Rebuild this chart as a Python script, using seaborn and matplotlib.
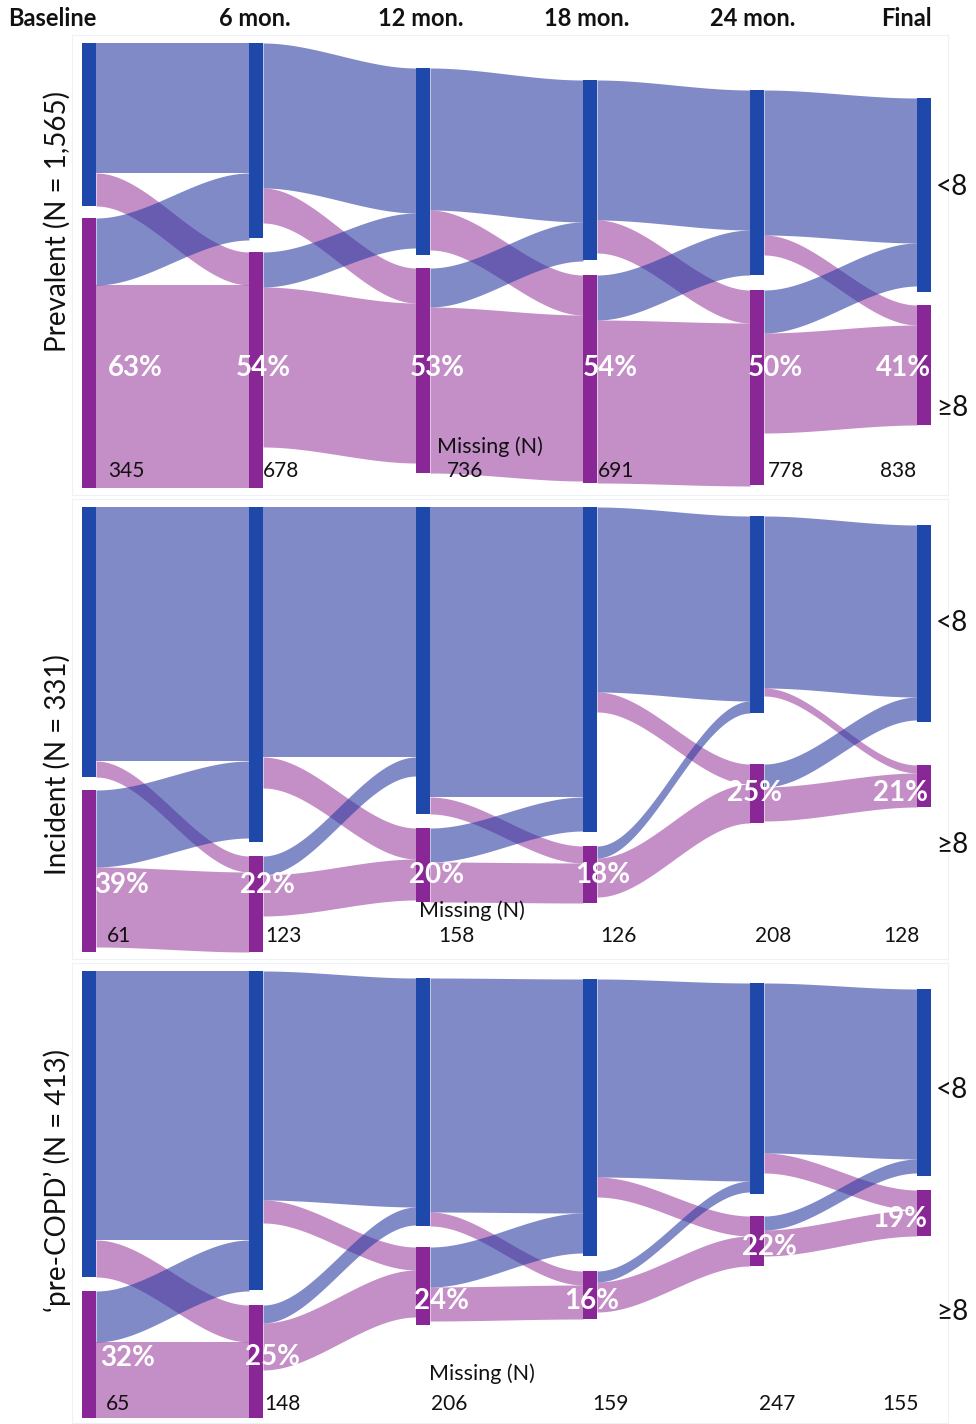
import numpy as np
import matplotlib
matplotlib.use("Agg")
import matplotlib.pyplot as plt
import seaborn as sns

# ---------------- data ----------------
times = ["Baseline", "6 mon.", "12 mon.", "18 mon.", "24 mon.", "Final"]
groups = ["Prevalent (N = 1,565)", "Incident (N = 331)", "\u2018pre-COPD\u2019 (N = 413)"]
states = ["<8", "\u22658"]

# node sizes (scaled counts) for the <8 and >=8 states at each time point
prev_low = [163, 195, 187, 180, 185, 194]
prev_high = [270, 236, 205, 208, 195, 120]
# transitions between consecutive time points: (<8-><8, <8->=8, >=8-><8, >=8->=8)
prev_flows = [(130, 33, 67, 203), (145, 35, 35, 160), (142, 40, 39, 166),
              (140, 33, 45, 163), (145, 20, 43, 100)]
prev_pct = [63, 54, 53, 54, 50, 41]
prev_missing = [345, 678, 736, 691, 778, 838]

inc_low = [270, 335, 307, 325, 197, 197]
inc_high = [162, 96, 74, 57, 59, 42]
inc_flows = [(254, 16, 77, 80), (250, 31, 19, 41), (290, 17, 34, 40),
             (185, 20, 12, 39), (172, 8, 23, 34)]
inc_pct = [39, 22, 20, 18, 25, 21]
inc_missing = [61, 123, 158, 126, 208, 128]

copd_low = [306, 319, 248, 277, 211, 187]
copd_high = [127, 113, 78, 48, 50, 46]
copd_flows = [(269, 37, 51, 76), (229, 23, 18, 47), (234, 14, 40, 34),
              (198, 20, 11, 30), (170, 20, 14, 26)]
copd_pct = [32, 25, 24, 16, 22, 19]
copd_missing = [65, 148, 206, 159, 247, 155]

panels = [
    (prev_low, prev_high, prev_flows, prev_pct, prev_missing),
    (inc_low, inc_high, inc_flows, inc_pct, inc_missing),
    (copd_low, copd_high, copd_flows, copd_pct, copd_missing),
]

# ---------------- layout (pixels) ----------------
W, H = 976, 1424
panel_px = [(35, 495), (499, 959), (963, 1423)]
ax_left, ax_right = 72, 948
col0, col_step, bar_w = 89, 167, 14 / 167
low_top = [[8, 8, 33, 45, 55, 63], [8, 8, 8, 8, 17, 26], [8, 8, 15, 16, 20, 26]]
node_gap = [[12, 14, 13, 15, 15, 13], [13, 14, 14, 14, 51, 43], [14, 15, 21, 15, 22, 14]]
pct_x = [[135, 263, 437, 610, 775, 903], [122, 267, 437, 603, 755, 900],
         [128, 272, 441, 592, 769, 900]]
pct_y = [[333] * 6, [386, 386, 376, 376, 294, 294], [395, 394, 338, 338, 284, 256]]
miss_x = [[108, 263, 447, 598, 768, 880], [107, 265, 438, 600, 755, 883],
          [106, 264, 431, 592, 759, 882]]
miss_y = [436, 437, 441]
miss_lab = [(437, 412), (419, 412), (429, 411)]
state_y = [(152, 373), (124, 346), (127, 349)]
ylab_y = [222, 765, 1180]

blue_node, purple_node = "#1e48a9", "#8a2797"
blue_flow, pink_flow = "#2b3ca3", "#9d43a0"
flow_alpha = 0.6

sns.set_theme(style="white")
plt.rcParams["font.family"] = ["Lato", "DejaVu Sans"]

fig = plt.figure(figsize=(W / 100, H / 100), dpi=100)


def px2x(px):
    return (px - col0) / col_step


def band(ax, x0, x1, a0, b0, a1, b1, color):
    t = np.linspace(0, 1, 120)
    s = t * t * (3 - 2 * t)
    xs = x0 + (x1 - x0) * t
    ax.fill_between(xs, a0 + (a1 - a0) * s, b0 + (b1 - b0) * s,
                    color=color, alpha=flow_alpha, lw=0)


for p, (low, high, flows, pct, missing) in enumerate(panels):
    top, bot = panel_px[p]
    ax = fig.add_axes([ax_left / W, 1 - bot / H, (ax_right - ax_left) / W, (bot - top) / H])
    ax.set_xlim(px2x(ax_left), px2x(ax_right))
    ax.set_ylim(bot - top, 0)
    ax.set_xticks([])
    ax.set_yticks([])
    for sp in ax.spines.values():
        sp.set_color("#edf2f9")
        sp.set_linewidth(0.8)

    Ltop = low_top[p]
    Htop = [Ltop[i] + low[i] + node_gap[p][i] for i in range(len(times))]

    pink_jobs, blue_jobs = [], []
    for i, (ll, lh, hl, hh) in enumerate(flows):
        x0, x1 = i + bar_w / 2, i + 1 - bar_w / 2
        blue_jobs.append((x0, x1, Ltop[i], Ltop[i] + ll, Ltop[i + 1], Ltop[i + 1] + ll))
        pink_jobs.append((x0, x1, Ltop[i] + ll, Ltop[i] + ll + lh, Htop[i + 1], Htop[i + 1] + lh))
        blue_jobs.append((x0, x1, Htop[i], Htop[i] + hl, Ltop[i + 1] + ll, Ltop[i + 1] + ll + hl))
        pink_jobs.append((x0, x1, Htop[i] + hl, Htop[i] + hl + hh,
                          Htop[i + 1] + lh, Htop[i + 1] + lh + hh))
    for j in pink_jobs:
        band(ax, *j, pink_flow)
    for j in blue_jobs:
        band(ax, *j, blue_flow)

    xs = np.arange(len(times))
    ax.bar(xs, low, width=bar_w, bottom=Ltop, color=blue_node, lw=0, zorder=3)
    ax.bar(xs, high, width=bar_w, bottom=Htop, color=purple_node, lw=0, zorder=3)

    for i in range(len(times)):
        ax.text(px2x(pct_x[p][i]), pct_y[p][i], f"{pct[i]}%", color="white",
                fontsize=20, fontweight="bold", ha="center", va="center", zorder=4)
        ax.text(px2x(miss_x[p][i]), miss_y[p], f"{missing[i]}", color="#111111",
                fontsize=15, ha="left", va="center", zorder=4)
    ax.text(px2x(miss_lab[p][0]), miss_lab[p][1], "Missing (N)", color="#111111",
            fontsize=15.5, ha="left", va="center", zorder=4)

    for k, lab in enumerate(states):
        ax.text(px2x(936), state_y[p][k], lab, fontsize=20, ha="left", va="center",
                color="#111111", clip_on=False)

    fig.text(57 / W, 1 - ylab_y[p] / H, groups[p], rotation=90, fontsize=20,
             ha="center", va="center", color="#111111")

# column headers
fig.text(8 / W, 1 - 18 / H, times[0], fontsize=17, fontweight="bold",
         ha="left", va="center", color="#111111")
for i, xc in zip(range(1, 6), [255, 421, 587, 753, 906]):
    fig.text(xc / W, 1 - 18 / H, times[i], fontsize=17, fontweight="bold",
             ha="center", va="center", color="#111111")

fig.savefig("out.png", dpi=100, facecolor="white")
